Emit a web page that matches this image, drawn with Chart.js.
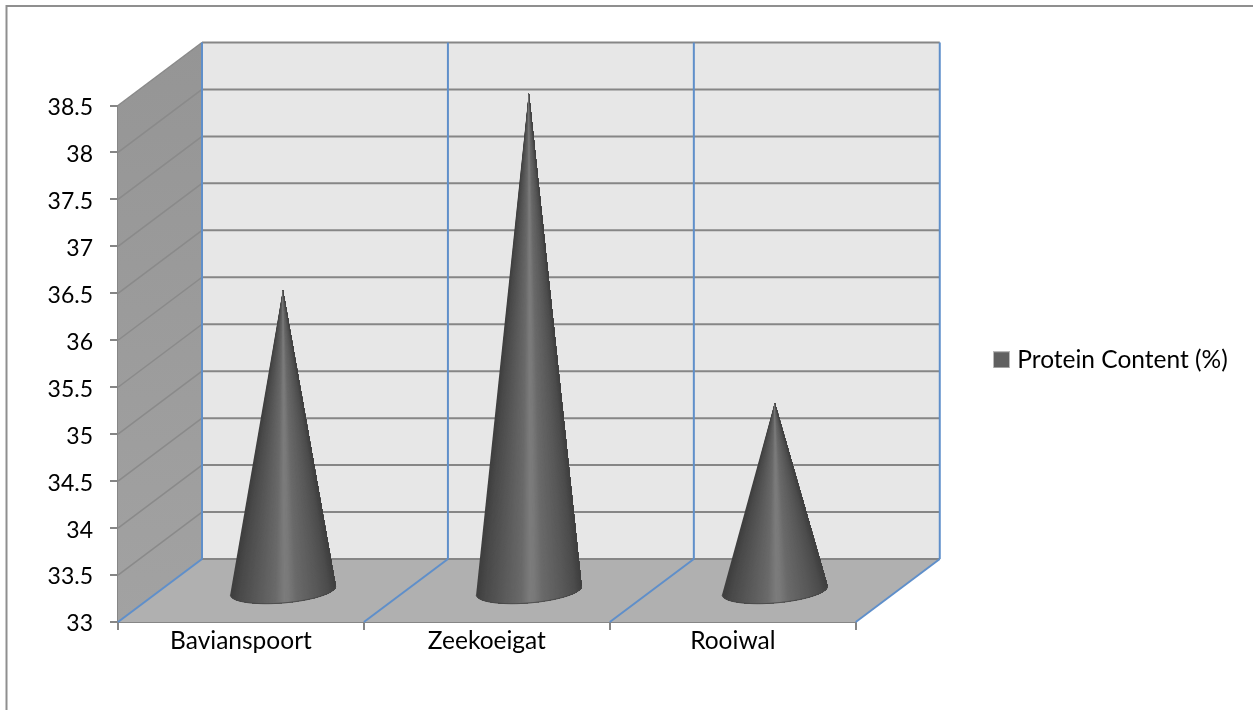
<!DOCTYPE html>
<html>
<head>
<meta charset="utf-8">
<title>Protein Content</title>
<script src="https://cdn.jsdelivr.net/npm/chart.js@4/dist/chart.umd.min.js"></script>
<style>
  html, body { margin: 0; padding: 0; background: #fff; }
  canvas { display: block; }
</style>
</head>
<body>
<canvas id="chart" width="1253" height="710"></canvas>
<script>
// Sites and their measured protein content
const categories = ['Bavianspoort', 'Zeekoeigat', 'Rooiwal'];
const seriesName = 'Protein Content (%)';
const proteinContent = [36.2, 38.3, 35.0];

const axisMin = 33;
const axisMax = 38.5;
const axisStep = 0.5;

// Oblique projection of the box the cones stand in
const depthX = 84;
const depthY = 63;

const FONT = 'Lato, Carlito, sans-serif';
const AXIS_GREY = '#868686';
const WALL_BLUE = '#5f8fca';

// Shade across a cone's surface, from its left edge (0) to its right edge (1)
const coneShades = [
  [0.00, [62, 62, 62]], [0.08, [74, 74, 74]], [0.25, [90, 90, 90]],
  [0.42, [106, 106, 106]], [0.50, [124, 124, 124]], [0.54, [122, 122, 122]],
  [0.62, [106, 106, 106]], [0.80, [90, 90, 90]], [0.93, [76, 76, 76]], [1.00, [62, 62, 62]]
];

function shadeAt(t) {
  for (let i = 1; i < coneShades.length; i++) {
    const [t1, c1] = coneShades[i];
    const [t0, c0] = coneShades[i - 1];
    if (t <= t1) {
      const f = (t - t0) / (t1 - t0);
      const v = c0.map((c, k) => Math.round(c + (c1[k] - c) * f));
      return `rgb(${v[0]},${v[1]},${v[2]})`;
    }
  }
  return 'rgb(62,62,62)';
}

function polygon(ctx, pts, fill) {
  ctx.beginPath();
  pts.forEach((p, i) => (i ? ctx.lineTo(p[0], p[1]) : ctx.moveTo(p[0], p[1])));
  ctx.closePath();
  ctx.fillStyle = fill;
  ctx.fill();
}

function line(ctx, x0, y0, x1, y1, color, width) {
  ctx.beginPath();
  ctx.moveTo(x0, y0);
  ctx.lineTo(x1, y1);
  ctx.strokeStyle = color;
  ctx.lineWidth = width;
  ctx.stroke();
}

// Top and left edges of the chart object's frame, running off the canvas
const framePlugin = {
  id: 'frame',
  beforeDraw(chart) {
    const { ctx, width, height } = chart;
    ctx.save();
    line(ctx, 6.5, 5, 6.5, height, '#8f8f8f', 2);
    line(ctx, 6, 6, width, 6, '#8f8f8f', 2);
    ctx.restore();
  }
};

// Side wall, floor and back wall, with gridlines taken from the scales
const boxPlugin = {
  id: 'box3d',
  beforeDatasetsDraw(chart) {
    const { ctx, scales: { x, y } } = chart;
    const left = x.left, right = x.right;
    const top = y.getPixelForValue(axisMax), bottom = y.getPixelForValue(axisMin);
    ctx.save();

    polygon(ctx, [[left + depthX, top - depthY], [right + depthX, top - depthY],
                  [right + depthX, bottom - depthY], [left + depthX, bottom - depthY]], '#e7e7e7');
    const sideFill = ctx.createLinearGradient(0, top - depthY, 0, bottom);
    sideFill.addColorStop(0, '#959595');
    sideFill.addColorStop(1, '#a2a2a2');
    polygon(ctx, [[left, top], [left + depthX, top - depthY],
                  [left + depthX, bottom - depthY], [left, bottom]], sideFill);
    polygon(ctx, [[left, bottom], [right, bottom],
                  [right + depthX, bottom - depthY], [left + depthX, bottom - depthY]], '#b0b0b0');

    y.ticks.forEach(t => {
      const py = y.getPixelForValue(t.value);
      if (t.value > axisMin) {
        line(ctx, left, py, left + depthX, py - depthY, '#8a8a8a', 1.5);
      }
      line(ctx, left + depthX, py - depthY, right + depthX, py - depthY, AXIS_GREY, 2);
    });

    const band = (right - left) / categories.length;
    for (let i = 0; i <= categories.length; i++) {
      const px = i < categories.length ? x.getPixelForValue(i) - band / 2 : right;
      line(ctx, px + depthX, top - depthY, px + depthX, bottom - depthY, WALL_BLUE, 2);
      line(ctx, px, bottom, px + depthX, bottom - depthY, WALL_BLUE, 2);
    }
    ctx.restore();
  }
};

// Replaces each bar with a cone built from the bar's own geometry
const conePlugin = {
  id: 'cones',
  beforeDatasetDraw(chart, args) {
    const { ctx } = chart;
    const tilt = -4.85 * Math.PI / 180;
    const minorRatio = 0.235;
    args.meta.data.forEach(bar => {
      const cx = bar.x + depthX / 2;
      const cy = bar.base - depthY / 2 + 1;
      const apexX = cx;
      const apexY = bar.y - depthY / 2;
      const a = bar.width / 2;
      const b = a * minorRatio;
      const pointOn = th => {
        const ex = a * Math.cos(th), ey = b * Math.sin(th);
        return [cx + ex * Math.cos(tilt) - ey * Math.sin(tilt),
                cy + ex * Math.sin(tilt) + ey * Math.cos(tilt)];
      };
      // Paint left to right, each pass covering everything still to its right,
      // so neighbouring facets leave no seams.
      const slices = 110;
      const arc = u => Math.acos(1 - 2 * u);
      const outline = [];
      for (let i = 0; i <= slices; i++) {
        outline.push(pointOn(Math.PI - arc(i / slices)));
      }
      ctx.save();
      for (let i = 0; i < slices; i++) {
        ctx.beginPath();
        ctx.moveTo(apexX, apexY);
        for (let j = i; j <= slices; j++) ctx.lineTo(outline[j][0], outline[j][1]);
        ctx.closePath();
        ctx.fillStyle = shadeAt((i + 0.5) / slices);
        ctx.fill();
      }
      ctx.beginPath();
      outline.forEach((p, i) => (i ? ctx.lineTo(p[0], p[1]) : ctx.moveTo(p[0], p[1])));
      ctx.strokeStyle = '#484848';
      ctx.lineWidth = 1;
      ctx.stroke();
      ctx.restore();
    });
    return false;
  }
};

// Places the legend to the right of the box and centres it on its row
const legendPlacement = {
  id: 'legendPlacement',
  afterLayout(chart) {
    const legend = chart.legend;
    legend.left = 993;
    legend.right = chart.width;
    legend.top -= 34;
    legend.bottom -= 34;
  }
};

// Legend swatch with its pale outline
const swatch = document.createElement('canvas');
swatch.width = 17;
swatch.height = 17;
{
  const s = swatch.getContext('2d');
  s.fillStyle = '#b9b9b9';
  s.fillRect(0, 0, 17, 17);
  s.fillStyle = '#606060';
  s.fillRect(1, 1, 15, 15);
}

new Chart(document.getElementById('chart'), {
  type: 'bar',
  data: {
    labels: categories,
    datasets: [{
      label: seriesName,
      data: proteinContent,
      base: axisMin,
      backgroundColor: '#606060',
      barPercentage: 0.431,
      categoryPercentage: 1
    }]
  },
  plugins: [framePlugin, boxPlugin, conePlugin, legendPlacement],
  options: {
    responsive: false,
    animation: false,
    devicePixelRatio: 1,
    layout: { padding: { left: 18, top: 105.5, bottom: 28, right: 152.5 } },
    plugins: {
      title: { display: false },
      tooltip: { enabled: false },
      legend: {
        position: 'right',
        labels: {
          usePointStyle: true,
          pointStyle: swatch,
          boxWidth: 7,
          boxHeight: 17,
          padding: 5,
          color: '#000',
          font: { family: FONT, size: 24.5 }
        }
      }
    },
    scales: {
      x: {
        afterFit(s) { s.height = 60; s.paddingLeft = 0; s.paddingRight = 0; },
        grid: { drawOnChartArea: false, drawTicks: true, tickLength: 8, color: AXIS_GREY, lineWidth: 2, offset: true },
        border: { color: AXIS_GREY, width: 2 },
        ticks: { color: '#000', font: { family: FONT, size: 24.5 }, padding: -4, maxRotation: 0 }
      },
      y: {
        min: axisMin,
        max: axisMax,
        afterFit(s) { s.width = 100; s.paddingTop = 0; s.paddingBottom = 0; },
        grid: { drawOnChartArea: false, drawTicks: true, tickLength: 8, color: AXIS_GREY, lineWidth: 2 },
        border: { color: AXIS_GREY, width: 2 },
        ticks: { stepSize: axisStep, color: '#000', font: { family: FONT, size: 23 }, padding: 17, labelOffset: 2, callback: v => String(v) }
      }
    }
  }
});
</script>
</body>
</html>
